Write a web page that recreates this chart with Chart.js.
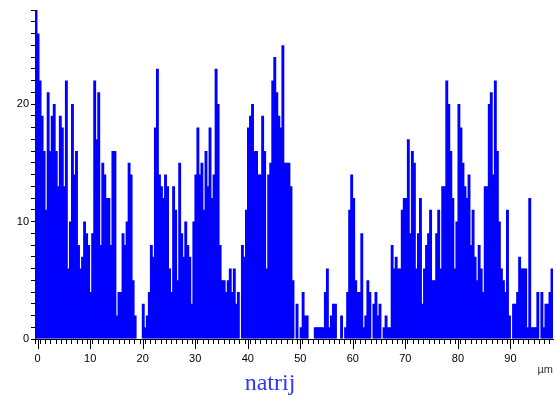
<!DOCTYPE html>
<html><head><meta charset="utf-8">
<script src="https://cdn.jsdelivr.net/npm/chart.js@4/dist/chart.umd.min.js"></script>
<style>
html,body{margin:0;padding:0;background:#fff;}
#wrap{position:relative;width:556px;height:399px;}
#title{position:absolute;left:0;width:540px;top:369px;text-align:center;font-family:"Liberation Serif","Times New Roman",serif;font-size:24px;line-height:26px;color:#3333ff;}
</style></head><body>
<div id="wrap"><canvas id="c" width="556" height="399"></canvas><div id="title">natrij</div></div>
<script>
// sodium counts per scan step (256 steps over the line)
const values = [
 28,26,22,19,16,11,21,16,19,20,
 16,13,19,18,13,22,6,10,20,14,
 16,8,6,7,10,9,8,4,9,22,
 17,21,8,15,14,12,12,8,16,16,
 2,4,4,9,8,10,15,14,5,2,
 0,0,0,3,1,2,4,8,7,18,
 23,14,13,12,14,13,6,4,13,11,
 5,15,9,7,10,8,7,3,10,14,
 18,14,15,11,16,13,18,12,14,23,
 20,8,5,5,4,5,6,4,6,3,
 4,0,8,7,11,18,19,20,16,16,
 14,14,19,16,6,14,15,22,24,21,
 19,18,25,15,15,15,13,5,0,3,
 0,1,4,2,2,0,0,0,1,1,
 1,1,1,4,6,1,2,3,3,0,
 0,2,0,1,4,11,14,12,5,4,
 4,9,1,2,5,4,0,3,4,2,
 3,0,1,2,1,1,8,6,7,6,
 6,11,12,12,17,9,16,15,6,9,
 12,3,6,8,9,11,5,5,9,11,
 6,13,13,22,20,16,12,6,10,20,
 18,15,13,12,14,8,11,7,5,8,
 6,4,13,13,20,21,14,22,16,10,
 6,5,4,11,2,0,3,3,4,7,
 6,6,6,1,12,1,1,1,4,0,
 4,1,3,3,4,6
];
const steps = values.map((_, i) => i);           // scan step index (categories)
const xRange = [0, 97.6];                          // µm
const yRange = [0, 28];
const xMajorTicks = [0, 10, 20, 30, 40, 50, 60, 70, 80, 90];
const yMajorTicks = [0, 10, 20];
const xUnit = 'µm';

const labelFont = { family: '"Liberation Sans", Arial, sans-serif', size: 11 };

const majorTicks = {
  id: 'majorTicks',
  afterDraw(chart) {
    const s = chart.scales.xAxis;
    const ctx = chart.ctx;
    ctx.save();
    ctx.strokeStyle = '#000';
    ctx.lineWidth = 1;
    ctx.beginPath();
    xMajorTicks.forEach(v => {
      const px = Math.round(s.getPixelForValue(v)) + 0.5;
      ctx.moveTo(px, s.top);
      ctx.lineTo(px, s.top + 10);
    });
    ctx.stroke();
    ctx.restore();
  }
};

new Chart(document.getElementById('c'), {
  type: 'bar',
  data: {
    labels: steps,
    datasets: [{
      data: values,
      backgroundColor: '#0000ff',
      borderWidth: 0,
      inflateAmount: 0,
      barThickness: 2.9,
      xAxisID: 'x',
      yAxisID: 'y'
    }]
  },
  options: {
    responsive: false,
    animation: false,
    devicePixelRatio: 1,
    layout: { padding: { top: 10, right: 3, left: 0, bottom: 22 } },
    plugins: { legend: { display: false }, tooltip: { enabled: false }, title: { display: false } },
    scales: {
      x: { type: 'category', display: false, offset: true },
      xAxis: {
        type: 'linear', position: 'bottom', min: xRange[0], max: xRange[1],
        ticks: {
          stepSize: 1, autoSkip: false, maxRotation: 0, minRotation: 0, includeBounds: false,
          callback: v => xMajorTicks.includes(v) ? String(v) : '',
          font: labelFont, color: '#000', padding: 8
        },
        grid: { drawOnChartArea: false, tickLength: 5, color: '#000', tickColor: '#000' },
        border: { color: '#000', width: 1 },
        title: { display: true, text: xUnit, align: 'end', color: '#333', font: labelFont, padding: { top: 0, bottom: 0 } },
        afterFit: s => { s.height = 38; }
      },
      y: {
        min: yRange[0], max: yRange[1],
        ticks: {
          stepSize: 1, autoSkip: false,
          callback: v => yMajorTicks.includes(v) ? String(v) : '',
          font: labelFont, color: '#000', padding: 2
        },
        grid: { drawOnChartArea: false, tickLength: 4, color: '#000', tickColor: '#000' },
        border: { color: '#000', width: 1 },
        afterFit: s => { s.width = 35; }
      }
    }
  },
  plugins: [majorTicks]
});
</script>
</body></html>
